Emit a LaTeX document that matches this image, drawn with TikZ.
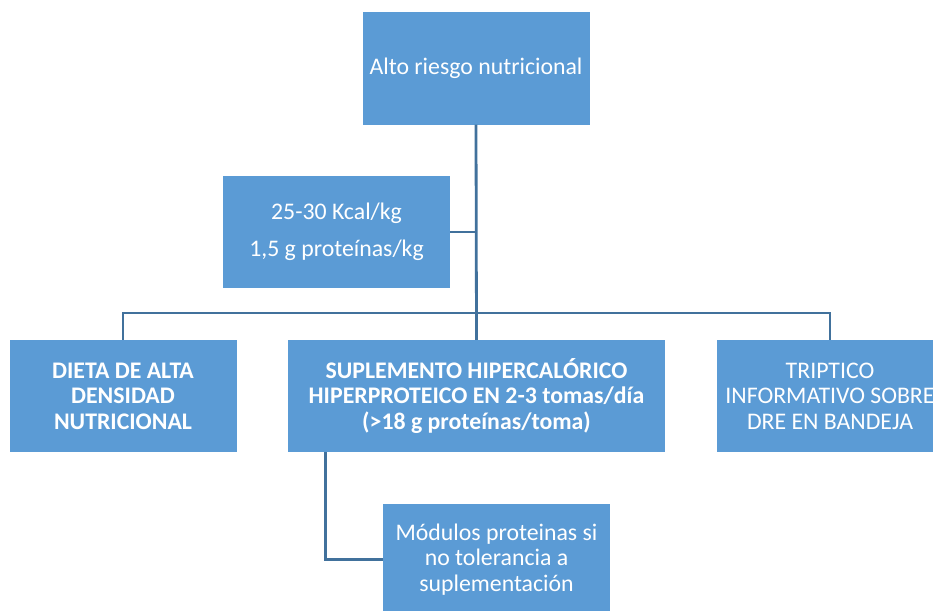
\documentclass[tikz,border=0pt]{standalone}
\usepackage{fontspec}
\setmainfont{Carlito}
\usepackage{tikz}
\usetikzlibrary{positioning,calc}
\definecolor{boxblue}{HTML}{5B9BD5}
\definecolor{linkblue}{HTML}{41719C}
\tikzset{
  box/.style={fill=boxblue, text=white, align=center, inner sep=3pt,
    font=\fontsize{23.8}{25.5}\selectfont, minimum width=227pt, minimum height=112pt},
  widebox/.style={box, minimum width=377pt},
  link/.style={draw=linkblue, line width=2.8pt}
}
\begin{document}
\begin{tikzpicture}[x=1pt,y=-1pt]
  \path[use as bounding box, clip] (0,0) rectangle (933,610);
  \node[box] (alto) at (476,68.5) {Alto riesgo nutricional};
  \node[box] (kcal) at (336.5,232) {25-30 Kcal/kg\\[12pt]1,5 g proteínas/kg};
  \node[box, font=\fontsize{23.8}{25.5}\selectfont\bfseries] (dieta) at (123,396) {DIETA DE ALTA\\DENSIDAD\\NUTRICIONAL};
  \node[widebox, font=\fontsize{23.8}{25.5}\selectfont\bfseries] (suple) at (476.5,396) {SUPLEMENTO HIPERCALÓRICO\\HIPERPROTEICO EN 2-3 tomas/día\\(>18 g proteínas/toma)};
  \node[box] (trip) at (830,396) {TRIPTICO\\INFORMATIVO SOBRE\\DRE EN BANDEJA};
  \node[box] (modulos) at (496.5,559.5) {Módulos proteinas si\\no tolerancia a\\suplementación};
  \coordinate (bar) at (476,313);
  \draw[link] (alto.south) -- (suple.north);
  \draw[link] (kcal.east) -- (kcal.east -| alto.south);
  \draw[link] (dieta.north) |- (bar) -| (trip.north);
  \draw[link] ($(suple.south west)!0.1!(suple.south east)$) |- (modulos.west);
\end{tikzpicture}
\end{document}
